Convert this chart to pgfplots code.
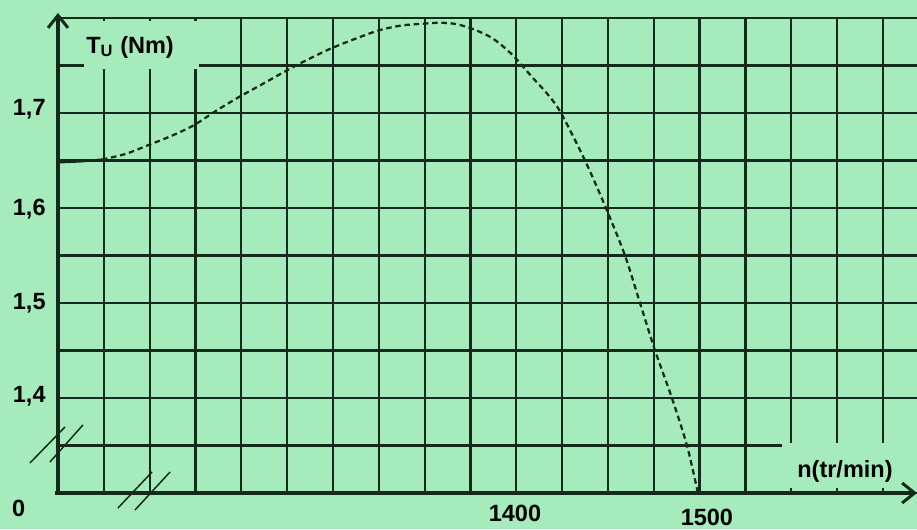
\documentclass[border=0pt]{standalone}
\usepackage{pgfplots}
\pgfplotsset{compat=1.18}
\usepackage{fontspec}
\setmainfont{Liberation Sans}
\usetikzlibrary{arrows.meta}
\definecolor{bg}{RGB}{165,235,188}
\definecolor{gc}{RGB}{22,42,28}
\begin{document}
\begin{tikzpicture}[font=\fontsize{9.4}{11}\selectfont\bfseries]
\path[use as bounding box] (-23.2pt,-14.4pt) rectangle (343.6pt,197.2pt);
\fill[bg] (-23.2pt,-14.4pt) rectangle (343.6pt,197.2pt);
\begin{axis}[at={(0pt,0pt)}, anchor=south west, scale only axis,
  width=343.6pt, height=190pt,
  xmin=1150, xmax=1618.6, ymin=1.3, ymax=1.8,
  xtick={1150,1175,...,1600},
  ytick={1.3,1.35,1.4,1.45,1.5,1.55,1.6,1.65,1.7,1.75,1.8},
  xticklabels={}, yticklabels={},
  major tick length=0pt,
  grid=major, grid style={line width=0.9pt, gc},
  axis line style={draw=none}, clip=false]
% gaps in the grid
\fill[bg] (axis cs:1152.2,1.7547) rectangle (axis cs:1246.5,1.7968);
\fill[bg] (axis cs:1164.2,1.7463) rectangle (axis cs:1226.9,1.7968);
\fill[bg] (axis cs:1544.9,1.3053) rectangle (axis cs:1618.6,1.3526);
% curve
\addplot[gc, line width=0.9pt, mark=none] coordinates {(1150,1.648)(1162,1.649)(1174,1.651)};
\addplot[gc, line width=0.9pt, mark=none, smooth, dash pattern=on 2.2pt off 1.5pt] coordinates {
(1174,1.651)(1187,1.657)(1199,1.666)(1212,1.676)(1224,1.687)(1236,1.702)(1248,1.716)
(1262,1.731)(1275,1.745)(1287,1.757)(1299,1.768)(1312,1.778)(1325,1.787)(1337,1.792)
(1349,1.794)(1358,1.795)(1366,1.794)(1374,1.790)(1384,1.782)(1391,1.773)(1399,1.759)
(1409,1.737)(1417,1.720)(1424.4,1.70)(1437.5,1.65)(1448.9,1.60)(1459.3,1.55)(1467.5,1.50)
(1475.7,1.45)(1484.9,1.40)(1493.1,1.35)(1499.1,1.30)};
% axes
\draw[gc, line width=1.4pt, -{Straight Barb[length=5pt,width=8pt,line width=1.2pt]}] (axis cs:1150,1.298) -- (axis cs:1150,1.8053);
\draw[gc, line width=1.4pt, -{Straight Barb[length=5pt,width=8pt,line width=1.2pt]}] (axis cs:1148.4,1.3) -- (axis cs:1618.6,1.3);
% axis breaks
\draw[gc, line width=0.6pt] (axis cs:1134.7,1.3316) -- (axis cs:1153.8,1.3695);
\draw[gc, line width=0.6pt] (axis cs:1145.6,1.3326) -- (axis cs:1163.6,1.3716);
\draw[gc, line width=0.6pt] (axis cs:1182.7,1.2842) -- (axis cs:1201.3,1.3221);
\draw[gc, line width=0.6pt] (axis cs:1192.0,1.2821) -- (axis cs:1211.1,1.3221);
% labels
\node[anchor=east, inner sep=0pt] at (axis cs:1143.5,1.7042) {1,7};
\node[anchor=east, inner sep=0pt] at (axis cs:1143.5,1.5990) {1,6};
\node[anchor=east, inner sep=0pt] at (axis cs:1143.5,1.5000) {1,5};
\node[anchor=east, inner sep=0pt] at (axis cs:1143.5,1.4020) {1,4};
\node[inner sep=0pt] at (axis cs:1128.5,1.2842) {0};
\node[inner sep=0pt] at (axis cs:1399.3,1.2790) {1400};
\node[inner sep=0pt] at (axis cs:1504.0,1.2745) {1500};
\node[inner sep=0pt] at (axis cs:1579.3,1.3232) {n(tr/min)};
\node[inner sep=0pt] at (axis cs:1189.3,1.7695) {T\textsubscript{U} (Nm)};
\end{axis}
\end{tikzpicture}
\end{document}
